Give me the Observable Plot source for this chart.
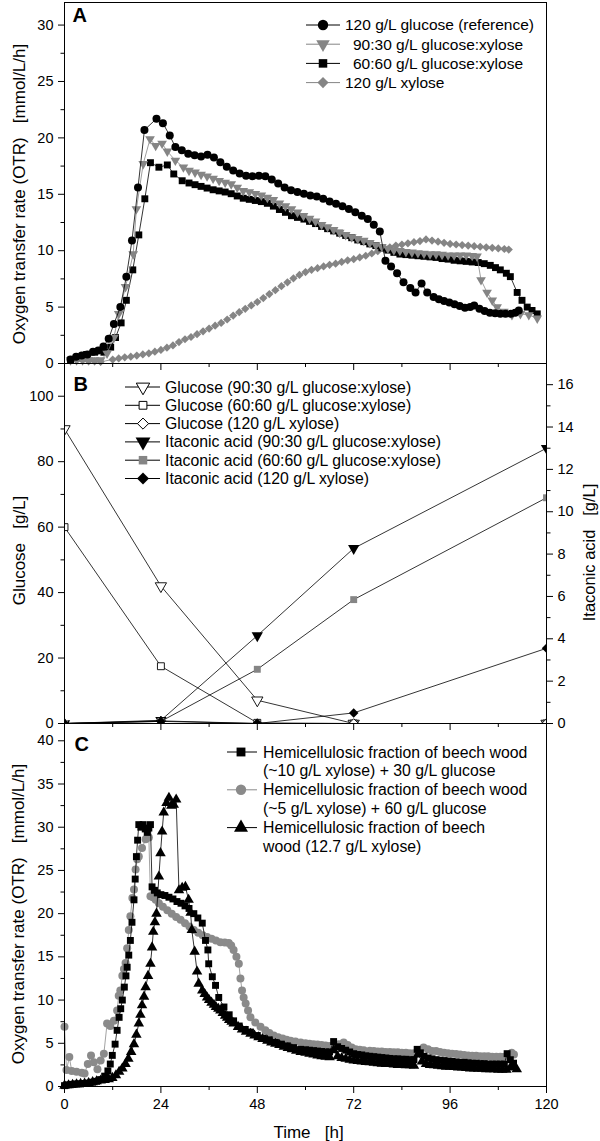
<!DOCTYPE html>
<html>
<head>
<meta charset="utf-8">
<script src="https://cdn.jsdelivr.net/npm/d3@7"></script>
<script src="https://cdn.jsdelivr.net/npm/@observablehq/plot@0.6"></script>
<style>
html, body { margin: 0; padding: 0; background: #fff; }
#wrap { position: relative; width: 600px; height: 1141px; overflow: hidden; background: #fff; }
</style>
</head>
<body>
<div id="wrap"></div>
<script>
// ---------------- DATA ----------------
// Panel A: OTR [mmol/L/h] vs time [h]
const timeGlc120 = [1.5, 2.9, 4.3, 5.7, 7.1, 8.4, 9.7, 11.0, 12.3, 13.9, 15.4, 16.8, 18.3, 19.9, 22.9, 24.5, 26.2, 27.6, 29.2, 30.8, 32.4, 34.0, 35.6, 37.2, 38.8, 40.4, 42.0, 43.6, 45.2, 46.8, 48.4, 50.0, 51.6, 53.2, 54.8, 56.4, 58.0, 59.6, 61.2, 62.8, 64.4, 66.0, 67.6, 69.2, 70.8, 72.4, 74.0, 75.5, 77.0, 78.5, 79.9, 81.3, 82.8, 84.4, 86.1, 87.4, 88.9, 90.3, 91.9, 93.2, 94.5, 95.8, 97.1, 98.4, 99.7, 101.0, 102.0, 103.3, 104.6, 105.9, 107.2, 108.5, 109.8, 111.1, 112.2, 113.1];
const otrGlc120 = [0.35, 0.6, 0.7, 0.8, 1.05, 1.15, 1.5, 2.2, 3.5, 5.0, 7.7, 10.9, 15.6, 20.7, 21.7, 21.3, 20.2, 19.2, 18.9, 18.6, 18.45, 18.35, 18.5, 18.25, 17.85, 17.45, 17.1, 16.85, 16.65, 16.6, 16.65, 16.6, 16.3, 15.95, 15.6, 15.35, 15.2, 15.05, 14.9, 14.8, 14.6, 14.35, 14.15, 13.95, 13.7, 13.4, 13.1, 12.8, 12.3, 11.7, 9.1, 8.6, 8.0, 7.2, 6.7, 6.3, 7.1, 6.3, 5.9, 5.7, 5.55, 5.4, 5.25, 5.1, 4.95, 5.0, 5.15, 4.85, 4.65, 4.5, 4.45, 4.4, 4.4, 4.4, 4.5, 4.7];

const timeGX9030 = [1.5, 3, 4.5, 6, 7.5, 9, 10.6, 12.3, 13.5, 15.2, 17.1, 17.9, 19.6, 21.3, 22.7, 24.3, 25.6, 27.6, 29.6, 31, 32.5, 34, 35.5, 37, 38.5, 40, 41.5, 43, 44.5, 46, 47.5, 49, 50.5, 52, 53.5, 55, 56.5, 58, 59.5, 61, 62.5, 64, 65.5, 67, 68.5, 70, 71.5, 73, 74.5, 76, 77.5, 79, 80.5, 82, 83.5, 85, 86.5, 88, 89.5, 91, 92.5, 94, 95.5, 97, 98.5, 100, 101.5, 102.7, 103.7, 105.2, 106.5, 107.7, 109.4, 111.4, 113.5, 115.6, 117.7];
const otrGX9030 = [0.3, 0.3, 0.3, 0.3, 0.3, 0.3, 0.9, 2.3, 4.4, 6.8, 9.7, 13.7, 17.7, 19.9, 19.3, 19.5, 18.8, 18.0, 17.4, 17.1, 16.95, 16.75, 16.6, 16.4, 16.2, 16.05, 15.9, 15.6, 15.3, 15.2, 15.05, 14.9, 14.7, 14.5, 14.2, 13.95, 13.7, 13.4, 13.1, 12.85, 12.6, 12.3, 12.1, 11.85, 11.6, 11.4, 11.2, 11.05, 10.9, 10.7, 10.5, 10.35, 10.2, 10.05, 10.0, 9.9, 9.85, 9.8, 9.75, 9.7, 9.7, 9.65, 9.6, 9.6, 9.6, 9.6, 9.55, 9.5, 7.4, 6.3, 5.6, 5.0, 4.6, 4.3, 4.4, 4.3, 4.0];

const timeGX6060 = [1.5, 3.5, 5.5, 7.5, 9.8, 11.5, 12.7, 14.1, 15.4, 17.0, 18.5, 20.0, 21.4, 23.5, 25.6, 27.2, 29.3, 31, 32.5, 34, 35.5, 37, 38.5, 40, 41.5, 43, 44.5, 46, 47.5, 49, 50.5, 52, 53.5, 55, 56.5, 58, 59.6, 61, 62.5, 64, 65.5, 67, 68.5, 70, 71.5, 73, 74.5, 76, 77.5, 79, 80.5, 82, 83.5, 85, 86.5, 88, 89.5, 91, 92.5, 94, 95.5, 97, 98.5, 100, 101.5, 103, 104.5, 106, 107.3, 108.5, 110, 111, 112.7, 113.9, 115.2, 116.4, 117.7];
const otrGX6060 = [0.3, 0.5, 0.8, 1.0, 1.0, 1.45, 2.3, 3.6, 5.6, 8.3, 11.4, 14.6, 17.8, 17.4, 17.6, 16.8, 16.2, 16.0, 15.85, 15.7, 15.55, 15.4, 15.3, 15.2, 15.05, 14.85, 14.65, 14.55, 14.45, 14.35, 14.2, 13.95, 13.65, 13.4, 13.1, 12.95, 12.8, 12.6, 12.4, 12.15, 11.95, 11.75, 11.55, 11.35, 11.15, 10.95, 10.8, 10.6, 10.45, 10.25, 10.05, 9.85, 9.7, 9.65, 9.6, 9.55, 9.5, 9.45, 9.4, 9.3, 9.25, 9.15, 9.1, 9.05, 9.0, 8.95, 8.85, 8.7, 8.5, 8.3, 8.0, 7.7, 6.3, 5.6, 5.0, 4.7, 4.4];

const timeXyl120 = [1.5, 3, 4.5, 6, 7.5, 9, 12, 13.5, 15, 16.5, 18, 19.5, 21, 22.5, 24, 25.5, 27, 28.5, 30, 31.5, 33, 34.5, 36, 37.5, 39, 40.5, 42, 43.5, 45, 46.5, 48, 49.5, 51, 52.5, 54, 55.5, 57, 58.5, 60, 61.5, 63, 64.5, 66, 67.5, 69, 70.5, 72, 73.5, 75, 76.5, 78, 79.5, 81, 82.5, 84, 85.5, 87, 88.5, 90, 91.5, 93, 94.5, 96, 97.5, 99, 100.5, 102, 103.5, 105, 106.5, 108, 109.5, 110.6];
const otrXyl120 = [0.3, 0.3, 0.3, 0.2, 0.2, 0.15, 0.35, 0.45, 0.55, 0.6, 0.7, 0.8, 0.9, 1.05, 1.2, 1.4, 1.6, 1.9, 2.15, 2.35, 2.6, 2.85, 3.1, 3.35, 3.6, 3.9, 4.25, 4.55, 4.85, 5.15, 5.45, 5.8, 6.15, 6.5, 6.85, 7.2, 7.55, 7.85, 8.1, 8.3, 8.45, 8.6, 8.75, 8.85, 9.0, 9.15, 9.25, 9.4, 9.55, 9.75, 9.95, 10.15, 10.3, 10.45, 10.55, 10.65, 10.75, 10.85, 11.0, 10.9, 10.8, 10.7, 10.6, 10.55, 10.5, 10.45, 10.4, 10.35, 10.3, 10.25, 10.2, 10.15, 10.1];

// Panel B: sampling times [h], glucose [g/L] (left axis), itaconic acid [g/L] (right axis)
const sampleTimes = [0, 24, 48, 72, 120];
const glucose9030 = [90, 42, 7.1, 0, 0];
const glucose6060 = [60, 17.5, 0.2, 0, 0];
const glucoseXyl120 = [0, 0.8, 0, 0, 0];
const itaconic9030 = [0, 0.15, 4.15, 8.27, 13.0];
const itaconic6060 = [0, 0.1, 2.56, 5.85, 10.66];
const itaconicXyl120 = [0, 0.1, 0, 0.5, 3.55];

// Panel C: OTR [mmol/L/h] vs time [h], hemicellulosic fraction of beech wood
const timeHF30 = [0, 1, 2, 3, 4, 5, 6, 7, 8, 9, 10, 10.8, 11.4, 11.9, 12.6, 13.1, 13.6, 14.0, 14.4, 14.9, 15.3, 15.6, 16.0, 16.4, 16.8, 17.3, 17.6, 17.9, 18.2, 18.5, 19.0, 19.6, 20.1, 20.6, 21.0, 21.4, 21.8, 22.4, 23.1, 24, 25, 26, 27, 28, 29, 30, 31, 32.2, 33.2, 34.3, 35.1, 35.7, 35.9, 36.8, 37.6, 38.4, 39.7, 41, 42.1, 43.5, 45, 46.3, 48, 49.5, 51, 52.5, 54, 55.5, 57, 58.8, 60, 61, 62, 63, 64, 65, 66, 67, 68, 69, 70, 71, 72, 73, 74, 75, 76, 77, 78, 79, 80, 81, 82, 83, 84, 85, 86, 87, 87.8, 88.6, 89.5, 90.5, 91.5, 92.5, 93.5, 94.5, 95.5, 96.5, 97.5, 98.5, 99.5, 100.5, 101.5, 102.5, 103.5, 104.5, 105.5, 106.5, 107.5, 108.5, 109.5, 110.2, 111.0, 111.8];
const otrHF30 = [0.1, 0.2, 0.25, 0.3, 0.3, 0.35, 0.4, 0.5, 0.6, 0.8, 1.2, 1.8, 2.6, 3.6, 4.9, 6.5, 8.0, 9.0, 10.0, 11.5, 12.8, 13.8, 15.2, 16.9, 19.0, 21.6, 24.0, 26.6, 28.5, 30.3, 30.0, 30.3, 29.8, 29.4, 29.9, 30.3, 23.1, 22.7, 22.4, 22.2, 22.1, 21.9, 21.7, 21.4, 21.2, 20.9, 20.6, 20.0, 19.5, 18.9, 16.9, 15.8, 14.2, 12.7, 11.7, 10.3, 9.2, 8.3, 7.6, 7.0, 6.6, 6.3, 5.9, 5.6, 5.4, 5.1, 4.9, 4.7, 4.5, 4.3, 4.25, 4.2, 4.15, 4.1, 4.05, 4.0, 4.0, 5.2, 4.6, 4.4, 4.2, 4.0, 3.8, 3.7, 3.65, 3.55, 3.5, 3.45, 3.4, 3.35, 3.3, 3.25, 3.2, 3.2, 3.15, 3.15, 3.1, 3.1, 4.3, 3.9, 3.5, 3.3, 3.2, 3.1, 3.05, 3.0, 2.95, 2.9, 2.85, 2.8, 2.8, 2.75, 2.7, 2.7, 2.65, 2.65, 2.6, 2.6, 2.6, 2.6, 2.6, 3.8, 3.1, 2.7];

const timeHF60 = [0, 0.5, 1.2, 1.8, 3, 4.3, 5, 5.8, 6.6, 7.3, 8.2, 9, 9.8, 10.6, 11.4, 12.3, 13.1, 13.5, 13.9, 14.4, 14.8, 15.2, 15.6, 16.0, 16.4, 16.9, 17.3, 17.7, 18.1, 18.5, 19.3, 20.2, 21.0, 21.4, 22.0, 22.7, 23.5, 24.5, 25.6, 26.7, 27.8, 28.9, 30, 31.1, 32.2, 33.3, 34.4, 35.5, 36.6, 37.7, 38.8, 39.9, 40.9, 41.5, 42.1, 42.8, 43.4, 43.8, 44.2, 44.6, 45.1, 45.7, 46.3, 47.5, 48.8, 50, 51, 52.1, 53.2, 54.3, 55.3, 56.3, 57.5, 58.8, 60, 61, 62, 63, 64, 65, 66, 67, 68.3, 69.5, 70.5, 71.5, 72.5, 73.5, 74.5, 76, 77, 78, 79, 80, 81, 82, 83, 84, 85, 86, 87, 88, 89.4, 90.5, 91.5, 92.5, 93.5, 94.5, 95.5, 96.5, 97.5, 98.5, 99.5, 100.5, 101.5, 102.5, 103.5, 104.5, 105.5, 106.5, 107.5, 108.5, 109.5, 110.5, 111.3, 111.9];
const otrHF60 = [6.9, 1.9, 3.4, 1.8, 1.7, 1.6, 1.5, 2.6, 3.6, 2.8, 2.0, 3.0, 3.8, 7.3, 7.0, 7.6, 8.8, 10.5, 11.1, 12.8, 13.6, 14.3, 16.0, 18.1, 19.7, 21.8, 22.8, 25.1, 26.3, 26.6, 27.6, 28.6, 28.8, 22.0, 21.9, 21.6, 21.2, 20.8, 20.4, 20.0, 19.6, 19.3, 18.9, 18.5, 18.1, 17.8, 17.5, 17.3, 17.1, 16.9, 16.7, 16.65, 16.6, 16.3, 15.8, 15.0, 14.2, 12.5, 11.1, 10.3, 9.6, 8.8, 8.0, 7.4, 6.9, 6.5, 6.2, 5.9, 5.7, 5.55, 5.4, 5.3, 5.2, 5.1, 5.0, 4.95, 4.9, 4.85, 4.8, 4.75, 4.7, 4.7, 4.9, 5.1, 4.8, 4.5, 4.3, 4.25, 4.2, 4.15, 4.1, 4.05, 4.05, 4.0, 4.0, 3.95, 3.95, 3.9, 3.9, 3.85, 3.85, 4.2, 4.5, 4.3, 4.1, 4.1, 4.0, 3.9, 3.85, 3.8, 3.75, 3.7, 3.65, 3.6, 3.55, 3.55, 3.5, 3.5, 3.5, 3.45, 3.45, 3.45, 3.45, 3.5, 3.9, 3.7];

const timeHF127 = [0, 1, 2, 3, 4, 5, 6, 7, 8, 9, 10, 11, 11.9, 12.8, 13.6, 14.4, 15.2, 15.9, 16.6, 17.3, 17.9, 18.5, 18.9, 19.3, 19.8, 20.2, 20.8, 21.4, 21.8, 22.1, 22.5, 22.9, 23.5, 23.9, 24.3, 24.7, 25.4, 26.0, 26.6, 27.2, 27.8, 28.5, 29.3, 30.1, 30.9, 31.4, 31.7, 32.4, 33.0, 33.4, 34.3, 34.9, 35.5, 36.0, 36.6, 37.2, 37.7, 38.3, 38.8, 39.4, 40.0, 40.5, 41.0, 41.6, 42.1, 43.2, 44.2, 45.2, 46.3, 47.3, 48.3, 49.3, 50.5, 51.5, 52.5, 53.5, 54.6, 55.6, 56.6, 57.7, 58.8, 60, 61, 62, 63, 64, 65, 66, 67, 68, 69, 70, 71, 72, 73, 74, 75, 76, 77, 78, 79, 80, 81, 82, 83, 84, 85, 86, 87, 88, 89, 90, 91, 92, 93, 94, 95, 96, 97, 98, 99, 100, 101, 102, 103, 104, 105, 106, 107, 108, 109, 110, 111, 111.8, 112.6];
const otrHF127 = [0.1, 0.15, 0.2, 0.25, 0.3, 0.35, 0.4, 0.5, 0.6, 0.7, 0.75, 0.85, 1.0, 1.3, 1.7, 2.1, 2.6, 3.2, 4.0, 4.9, 6.0, 7.3, 8.3, 9.4, 10.4, 11.5, 12.8, 14.2, 16.1, 17.9, 19.0, 20.0, 24.3, 27.0, 29.5, 31.7, 32.8, 33.4, 32.5, 32.6, 33.2, 22.7, 23.0, 23.1, 21.6, 20.1, 18.1, 15.6, 13.3, 11.9, 11.1, 10.7, 10.3, 10.0, 9.7, 9.45, 9.2, 9.0, 8.8, 8.5, 8.2, 7.95, 7.7, 7.5, 7.3, 6.9, 6.6, 6.35, 6.1, 5.9, 5.7, 5.5, 5.3, 5.1, 4.95, 4.8, 4.6, 4.45, 4.3, 4.15, 4.0, 3.9, 3.8, 3.7, 3.6, 3.5, 3.45, 3.4, 4.2, 3.5, 3.3, 3.2, 3.1, 3.0, 2.95, 2.9, 2.85, 2.8, 2.75, 2.7, 2.65, 2.6, 2.6, 2.55, 2.5, 2.5, 2.45, 2.45, 2.4, 3.7, 2.9, 2.6, 2.5, 2.45, 2.4, 2.35, 2.3, 2.3, 2.25, 2.2, 2.2, 2.15, 2.1, 2.1, 2.05, 2.05, 2.0, 2.0, 2.0, 1.95, 1.95, 1.95, 2.2, 2.4, 2.0];

// Axis ticks
const timeTicks = [0, 24, 48, 72, 96, 120];
const timeMinorTicks = [12, 36, 60, 84, 108];
const otrTicksA = [0, 5, 10, 15, 20, 25, 30];
const otrMinorA = [2.5, 7.5, 12.5, 17.5, 22.5, 27.5];
const glucoseTicks = [0, 20, 40, 60, 80, 100];
const glucoseMinor = [10, 30, 50, 70, 90];
const itaconicTicks = [0, 2, 4, 6, 8, 10, 12, 14, 16];
const itaconicMinor = [1, 3, 5, 7, 9, 11, 13, 15];
const otrTicksC = [0, 5, 10, 15, 20, 25, 30, 35, 40];
const otrMinorC = [2.5, 7.5, 12.5, 17.5, 22.5, 27.5, 32.5, 37.5];

// Legend labels
const legendA = ["120 g/L glucose (reference)", "90:30 g/L glucose:xylose", "60:60 g/L glucose:xylose", "120 g/L xylose"];
const legendB = ["Glucose (90:30 g/L glucose:xylose)", "Glucose (60:60 g/L glucose:xylose)", "Glucose (120 g/L xylose)", "Itaconic acid (90:30 g/L glucose:xylose)", "Itaconic acid (60:60 g/L glucose:xylose)", "Itaconic acid (120 g/L xylose)"];
const legendC = [["Hemicellulosic fraction of beech wood", "(~10 g/L xylose) + 30 g/L glucose"], ["Hemicellulosic fraction of beech wood", "(~5 g/L xylose) + 60 g/L glucose"], ["Hemicellulosic fraction of beech", "wood (12.7 g/L xylose)"]];

// ---------------- DRAWING ----------------
const FONT = '"Liberation Sans", Arial, Helvetica, sans-serif';
const GRAY = "#858585";
const LW = 0.8;
const W = 600, ML = 64, MR = 54;
const NB = "\u00a0\u00a0\u00a0";

const triDown = {
  draw(ctx, size) {
    const y = -Math.sqrt(size / (Math.sqrt(3) * 3));
    ctx.moveTo(0, -2 * y);
    ctx.lineTo(-Math.sqrt(3) * y, y);
    ctx.lineTo(Math.sqrt(3) * y, y);
    ctx.closePath();
  }
};
const symbolMap = {circle: d3.symbolCircle, square: d3.symbolSquare, triangle: d3.symbolTriangle, diamond2: d3.symbolDiamond2};

const rows = (ts, vs) => ts.map((t, i) => ({t, v: vs[i]}));

function series(data, {symbol, r, fill, stroke = "none", strokeWidth = 1, line = "black", clip = false}) {
  return [
    Plot.line(data, {x: "t", y: "v", stroke: line, strokeWidth: LW, clip}),
    Plot.dot(data, {x: "t", y: "v", symbol, r, fill, stroke, strokeWidth, clip})
  ];
}
function yAxisMarks(major, minor, anchor = "left") {
  return [
    Plot.axisY({anchor, ticks: major, tickSize: 6, tickPadding: 5, fontSize: 14.5, label: null}),
    Plot.axisY({anchor, ticks: minor, tickSize: 3.5, fill: "none", label: null})
  ];
}
function xAxisMarks(withLabels) {
  return [
    Plot.axisX({ticks: timeTicks, tickSize: 7, tickPadding: 5, fontSize: 14.5, label: null, fill: withLabels ? "black" : "none"}),
    Plot.axisX({ticks: timeMinorTicks, tickSize: 4, fill: "none", label: null})
  ];
}
const baseStyle = {fontFamily: FONT, fontSize: "14.5px", background: "transparent", overflow: "visible", color: "black"};
function panelLabel(s, dx, dy) {
  return Plot.text([s], {text: d => d, frameAnchor: "top-left", dx, dy, textAnchor: "start", lineAnchor: "middle", fontWeight: "bold", fontSize: 20});
}
function yTitle(s, dx, dy, fontSize = 17) {
  return Plot.text([s], {text: d => d, frameAnchor: dx < 0 ? "left" : "right", dx, dy, rotate: -90, textAnchor: "middle", lineAnchor: "middle", fontSize});
}

const wrap = document.getElementById("wrap");
function place(svg, top) {
  svg.style.position = "absolute";
  svg.style.left = "0px";
  svg.style.top = top + "px";
  svg.style.overflow = "visible";
  wrap.appendChild(svg);
}

// Panel A
const plotA = Plot.plot({
  width: W, height: 363, marginLeft: ML, marginRight: MR, marginTop: 2, marginBottom: 0,
  style: baseStyle,
  x: {domain: [0, 120]},
  y: {domain: [0, 32]},
  marks: [
    ...yAxisMarks(otrTicksA, otrMinorA),
    ...xAxisMarks(false),
    ...series(rows(timeXyl120, otrXyl120), {symbol: "diamond2", r: 3.7, fill: GRAY, line: GRAY}),
    ...series(rows(timeGX6060, otrGX6060), {symbol: "square", r: 3.9, fill: "black", line: "black"}),
    ...series(rows(timeGX9030, otrGX9030), {symbol: triDown, r: 3.6, fill: GRAY, line: GRAY}),
    ...series(rows(timeGlc120, otrGlc120), {symbol: "circle", r: 4, fill: "black", line: "black"}),
    Plot.frame({stroke: "black", strokeWidth: 1}),
    panelLabel("A", 8, 13),
    yTitle("Oxygen transfer rate (OTR)" + NB + "[mmol/L/h]", -45, 11)
  ]
});
place(plotA, 0);

// Panel B (glucose, left axis)
const plotB = Plot.plot({
  width: W, height: 360, marginLeft: ML, marginRight: MR, marginTop: 0, marginBottom: 0,
  style: baseStyle,
  x: {domain: [0, 120]},
  y: {domain: [0, 110]},
  marks: [
    ...yAxisMarks(glucoseTicks, glucoseMinor),
    ...xAxisMarks(false),
    ...series(rows(sampleTimes, glucose9030), {symbol: triDown, r: 4.2, fill: "white", stroke: "black", strokeWidth: 0.9, clip: true}),
    ...series(rows(sampleTimes, glucose6060), {symbol: "square", r: 3.9, fill: "white", stroke: "black", strokeWidth: 0.9, clip: true}),
    ...series(rows(sampleTimes, glucoseXyl120), {symbol: "diamond2", r: 4.3, fill: "white", stroke: "black", strokeWidth: 0.9, clip: true}),
    Plot.frame({stroke: "black", strokeWidth: 1}),
    panelLabel("B", 9, 21),
    yTitle("Glucose" + NB + "[g/L]", -45, 7)
  ]
});
place(plotB, 363);

// Panel B (itaconic acid, right axis)
const plotB2 = Plot.plot({
  width: W, height: 360, marginLeft: ML, marginRight: MR, marginTop: 0, marginBottom: 0,
  style: baseStyle,
  x: {domain: [0, 120], axis: null},
  y: {domain: [0, 17]},
  marks: [
    ...yAxisMarks(itaconicTicks, itaconicMinor, "right"),
    ...series(rows(sampleTimes, itaconic9030), {symbol: triDown, r: 4.2, fill: "black", clip: true}),
    ...series(rows(sampleTimes, itaconic6060), {symbol: "square", r: 3.9, fill: GRAY, clip: true}),
    ...series(rows(sampleTimes, itaconicXyl120), {symbol: "diamond2", r: 4.3, fill: "black", clip: true}),
    yTitle("Itaconic acid" + NB + "[g/L]", 43, 9, 16.5)
  ]
});
place(plotB2, 363);

// Panel C
const plotC = Plot.plot({
  width: W, height: 418, marginLeft: ML, marginRight: MR, marginTop: 0, marginBottom: 55,
  style: baseStyle,
  x: {domain: [0, 120]},
  y: {domain: [0, 42]},
  marks: [
    ...yAxisMarks(otrTicksC, otrMinorC),
    ...xAxisMarks(true),
    ...series(rows(timeHF60, otrHF60), {symbol: "circle", r: 4, fill: "#8a8a8a", line: "#8a8a8a"}),
    ...series(rows(timeHF30, otrHF30), {symbol: "square", r: 3.9, fill: "black", line: "black"}),
    ...series(rows(timeHF127, otrHF127), {symbol: "triangle", r: 3.9, fill: "black", line: "black"}),
    Plot.frame({stroke: "black", strokeWidth: 1}),
    panelLabel("C", 10, 21),
    yTitle("Oxygen transfer rate (OTR)" + NB + "[mmol/L/h]", -46, 9),
    Plot.text(["Time" + NB + "[h]"], {text: d => d, frameAnchor: "bottom", dx: 3, dy: 46, lineAnchor: "middle", fontSize: 17})
  ]
});
place(plotC, 723);

// ---------------- LEGENDS (overlay) ----------------
const leg = d3.create("svg")
  .attr("width", 600).attr("height", 1141)
  .style("position", "absolute").style("left", "0px").style("top", "0px")
  .style("font-family", FONT).style("pointer-events", "none");

function legendItem(y, o) {
  const g = leg.append("g");
  if (o.x0 !== undefined) {
    g.append("line").attr("x1", o.x0).attr("x2", o.x1).attr("y1", y).attr("y2", y)
      .attr("stroke", o.line).attr("stroke-width", 1);
  }
  if (o.symbol) {
    const type = typeof o.symbol === "string" ? symbolMap[o.symbol] : o.symbol;
    g.append("path").attr("d", d3.symbol(type, Math.PI * o.r * o.r)())
      .attr("transform", `translate(${o.cx},${y})`)
      .attr("fill", o.fill).attr("stroke", o.stroke || "none").attr("stroke-width", o.strokeWidth || 1);
  }
  g.append("text").attr("x", o.tx).attr("y", y).attr("dy", "0.35em")
    .attr("font-size", o.fontSize).attr("fill", "black").text(o.text);
}

// Legend A
const legA = [
  {symbol: "circle", r: 5.2, fill: "black", line: "black", tx: 345},
  {symbol: triDown, r: 5, fill: GRAY, line: GRAY, tx: 353},
  {symbol: "square", r: 4.8, fill: "black", line: "black", tx: 353},
  {symbol: "diamond2", r: 5, fill: GRAY, line: GRAY, tx: 345}
];
legA.forEach((o, i) => legendItem(25 + i * 19.2, {...o, x0: 306, x1: 340, cx: 323, text: legendA[i], fontSize: 15.5}));

// Legend B
const legB = [
  {symbol: triDown, r: 5, fill: "white", stroke: "black"},
  {symbol: "square", r: 4.4, fill: "white", stroke: "black"},
  {symbol: "diamond2", r: 5, fill: "white", stroke: "black"},
  {symbol: triDown, r: 5.5, fill: "black"},
  {symbol: "square", r: 4.8, fill: GRAY},
  {symbol: "diamond2", r: 5.4, fill: "black"}
];
legB.forEach((o, i) => legendItem(387 + i * 18.3, {...o, x0: 125, x1: 160, cx: 143, line: "black", tx: 165, text: legendB[i], fontSize: 15.8}));

// Legend C
const legC = [
  {symbol: "square", r: 5, fill: "black", line: "black"},
  {symbol: "circle", r: 5.2, fill: "#8a8a8a", line: "#8a8a8a"},
  {symbol: "triangle", r: 5.2, fill: "black", line: "black"}
];
legC.forEach((o, i) => {
  const y = 752 + i * 37.8;
  legendItem(y, {...o, x0: 227, x1: 257, cx: 241, tx: 263, text: legendC[i][0], fontSize: 15.8});
  legendItem(y + 18.9, {tx: 263, text: legendC[i][1], fontSize: 15.8});
});

wrap.appendChild(leg.node());
</script>
</body>
</html>
